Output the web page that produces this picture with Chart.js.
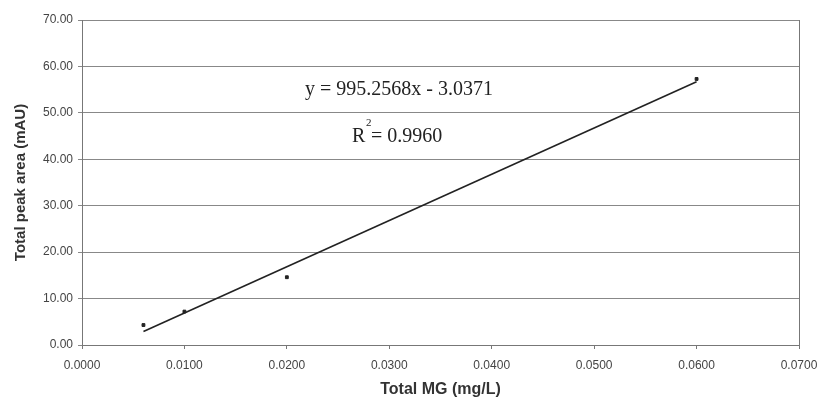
<!DOCTYPE html>
<html>
<head>
<meta charset="UTF-8">
<title>Total MG calibration</title>
<script src="https://cdn.jsdelivr.net/npm/chart.js@4"></script>
<style>
    body { margin: 0; background: #ffffff; }
    #wrap { width: 820px; height: 403px; }
</style>
</head>
<body>
<div id="wrap"><canvas id="calChart" width="820" height="403"></canvas></div>
<script>
// measured points
const concMG = [0.006, 0.010, 0.020, 0.060];
const peakArea = [4.3, 7.2, 14.6, 57.3];
// linear trendline (end points)
const trendX = [0.006, 0.060];
const trendY = [2.9, 56.7];

const eqText = 'y = 995.2568x - 3.0371';
const r2Text = '0.9960';

// draws the right frame line and the fit equation text
const extras = {
    id: 'extras',
    afterDraw(chart) {
        const ctx = chart.ctx;
        const a = chart.chartArea;
        ctx.save();
        ctx.strokeStyle = '#777';
        ctx.lineWidth = 1;
        ctx.beginPath();
        ctx.moveTo(a.right + 0.5, a.top);
        ctx.lineTo(a.right + 0.5, a.bottom);
        ctx.stroke();

        ctx.fillStyle = '#222';
        ctx.font = '20px "Liberation Serif", "Times New Roman", serif';
        ctx.textBaseline = 'alphabetic';
        ctx.fillText(eqText, a.left + 223, a.top + 75);
        ctx.fillText('R', a.left + 270, a.top + 122);
        ctx.font = '11px "Liberation Serif", serif';
        ctx.fillText('2', a.left + 284, a.top + 106);
        ctx.font = '20px "Liberation Serif", "Times New Roman", serif';
        ctx.fillText(' = ' + r2Text, a.left + 284, a.top + 122);
        ctx.restore();
    }
};

new Chart(document.getElementById('calChart'), {
    type: 'scatter',
    data: {
        datasets: [{
            label: 'Total MG',
            data: concMG.map((x, i) => ({ x: x, y: peakArea[i] })),
            backgroundColor: '#222',
            borderColor: '#222',
            pointRadius: 2,
            pointStyle: 'rect'
        }, {
            label: 'Linear',
            type: 'line',
            data: trendX.map((x, i) => ({ x: x, y: trendY[i] })),
            borderColor: '#222',
            borderWidth: 1.6,
            pointRadius: 0,
            fill: false
        }]
    },
    options: {
        responsive: false,
        animation: false,
        layout: { padding: { top: 20, right: 21, bottom: 0, left: 8 } },
        plugins: {
            legend: { display: false },
            tooltip: { enabled: false }
        },
        scales: {
            x: {
                type: 'linear',
                min: 0,
                max: 0.07,
                afterFit(s) {
                    s.height = 58;
                    s.paddingLeft = 0;
                    s.paddingRight = 0;
                },
                ticks: {
                    stepSize: 0.01,
                    color: '#444',
                    font: { family: 'Liberation Sans, Arial', size: 12 },
                    padding: 9,
                    callback: v => v.toFixed(4)
                },
                grid: { drawOnChartArea: false, tickLength: 4, color: '#777' },
                border: { color: '#777' },
                title: {
                    display: true,
                    text: 'Total MG (mg/L)',
                    color: '#333',
                    font: { family: 'Liberation Sans, Arial', size: 16, weight: 'bold' },
                    padding: { top: 0 }
                }
            },
            y: {
                min: 0,
                max: 70,
                afterFit(s) {
                    s.width = 74;
                    s.paddingTop = 0;
                },
                ticks: {
                    stepSize: 10,
                    color: '#444',
                    font: { family: 'Liberation Sans, Arial', size: 12 },
                    padding: 5,
                    callback: v => v.toFixed(2)
                },
                grid: { color: '#888', lineWidth: 1, tickLength: 4 },
                border: { color: '#777' },
                title: {
                    display: true,
                    text: 'Total peak area (mAU)',
                    color: '#333',
                    font: { family: 'Liberation Sans, Arial', size: 15, weight: 'bold' },
                    padding: { bottom: 2 }
                }
            }
        }
    },
    plugins: [extras]
});
</script>
</body>
</html>
